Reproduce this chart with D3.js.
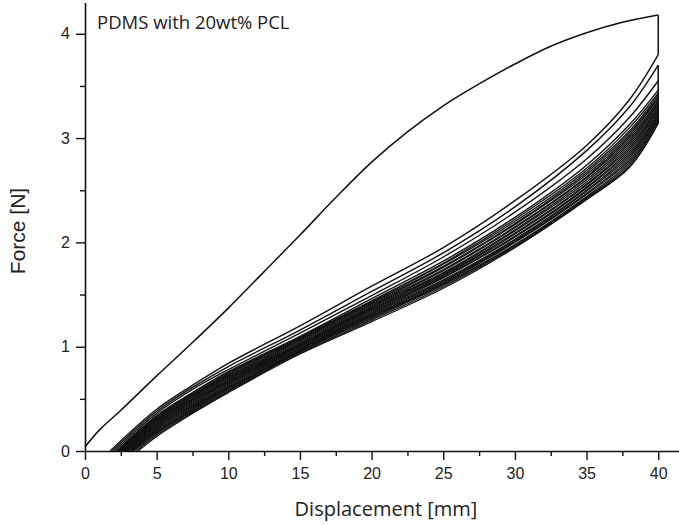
<!DOCTYPE html>
<html>
<head>
<meta charset="utf-8">
<script src="https://cdn.jsdelivr.net/npm/d3@7"></script>
<style>
  html, body { margin: 0; padding: 0; background: #fff; }
  svg { display: block; }
</style>
</head>
<body>
<svg width="679" height="525"></svg>
<script>
// first (virgin) loading cycle
const firstLoadX = [0, 1, 2.5, 5, 7.5, 10, 12.5, 15, 17.5, 20, 22.5, 25, 27.5, 30, 32.5, 35, 37.5, 40];
const firstLoadF = [0.04, 0.20, 0.39, 0.72, 1.04, 1.37, 1.72, 2.07, 2.43, 2.77, 3.06, 3.31, 3.52, 3.71, 3.88, 4.01, 4.11, 4.18];

// following cycles: force at the displacement grid, each starting from zero force
const cycleGridX = [5, 7.5, 10, 15, 20, 25, 30, 35, 38, 40];
const cycleStartX = [1.75, 1.90, 2.05, 2.20, 2.28, 2.35, 2.40, 2.45, 2.50, 2.55, 2.62, 2.70,
                     2.75, 2.80, 2.88, 2.95, 3.02, 3.10, 3.18, 3.25, 3.32, 3.40, 3.55, 3.70];
const cycleForce = [
  [0.40, 0.63, 0.84, 1.20, 1.58, 1.95, 2.40, 2.93, 3.37, 3.80],
  [0.38, 0.61, 0.81, 1.16, 1.53, 1.90, 2.34, 2.88, 3.30, 3.70],
  [0.36, 0.59, 0.78, 1.13, 1.49, 1.86, 2.29, 2.80, 3.20, 3.55],
  [0.34, 0.56, 0.76, 1.10, 1.46, 1.82, 2.24, 2.74, 3.13, 3.46],
  [0.33, 0.55, 0.75, 1.09, 1.44, 1.80, 2.22, 2.71, 3.10, 3.43],
  [0.32, 0.54, 0.74, 1.08, 1.43, 1.79, 2.20, 2.69, 3.07, 3.41],
  [0.31, 0.53, 0.73, 1.07, 1.42, 1.77, 2.18, 2.67, 3.05, 3.39],
  [0.30, 0.52, 0.72, 1.06, 1.41, 1.76, 2.17, 2.65, 3.03, 3.38],
  [0.295, 0.51, 0.71, 1.05, 1.40, 1.74, 2.15, 2.63, 3.01, 3.36],
  [0.29, 0.50, 0.70, 1.04, 1.39, 1.73, 2.14, 2.62, 2.99, 3.35],
  [0.28, 0.49, 0.69, 1.03, 1.38, 1.71, 2.12, 2.60, 2.97, 3.33],
  [0.27, 0.48, 0.68, 1.02, 1.37, 1.70, 2.11, 2.58, 2.95, 3.32],
  [0.26, 0.47, 0.67, 1.015, 1.36, 1.69, 2.09, 2.56, 2.93, 3.30],
  [0.25, 0.46, 0.66, 1.01, 1.35, 1.68, 2.08, 2.55, 2.91, 3.29],
  [0.24, 0.45, 0.65, 1.00, 1.34, 1.67, 2.06, 2.53, 2.89, 3.27],
  [0.23, 0.44, 0.64, 0.99, 1.33, 1.66, 2.05, 2.52, 2.87, 3.26],
  [0.22, 0.43, 0.63, 0.985, 1.32, 1.64, 2.03, 2.50, 2.85, 3.24],
  [0.21, 0.42, 0.62, 0.98, 1.31, 1.63, 2.02, 2.49, 2.83, 3.23],
  [0.20, 0.41, 0.61, 0.97, 1.30, 1.62, 2.01, 2.47, 2.81, 3.21],
  [0.19, 0.40, 0.60, 0.96, 1.29, 1.61, 2.00, 2.46, 2.79, 3.20],
  [0.18, 0.39, 0.59, 0.955, 1.28, 1.60, 1.98, 2.44, 2.77, 3.18],
  [0.17, 0.38, 0.58, 0.95, 1.27, 1.59, 1.97, 2.43, 2.75, 3.17],
  [0.155, 0.37, 0.57, 0.94, 1.255, 1.575, 1.96, 2.42, 2.73, 3.15],
  [0.14, 0.36, 0.56, 0.93, 1.24, 1.56, 1.95, 2.41, 2.72, 3.14]
];

const xMajor = [0, 5, 10, 15, 20, 25, 30, 35, 40];
const xMinor = [2.5, 7.5, 12.5, 17.5, 22.5, 27.5, 32.5, 37.5];
const yMajor = [0, 1, 2, 3, 4];
const yMinor = [0.5, 1.5, 2.5, 3.5];

const svg = d3.select("svg");

let x = d3.scaleLinear().domain([0, 41.45]).range([85, 679])
  , y = d3.scaleLinear().domain([0, 4.3]).range([451, 2.5]);

let line = d3.line()
  .x(d => x(d[0]))
  .y(d => y(d[1]))
  .curve(d3.curveCatmullRom.alpha(0.5));

let straight = d3.line()
  .x(d => x(d[0]))
  .y(d => y(d[1]));

let curves = svg.append("g")
  .attr("fill", "none")
  .attr("stroke", "#111")
  .attr("stroke-linejoin", "round");

// later cycles, last one drawn first
cycleForce.slice().reverse().forEach((f, j) => {
  let i = cycleForce.length - 1 - j;
  let pts = [[cycleStartX[i], 0]].concat(cycleGridX.map((gx, k) => [gx, f[k]]));
  curves.append("path")
    .attr("d", line(pts))
    .attr("stroke-width", i < 4 ? 1.4 : 1.3);
});

// first loading curve
curves.append("path")
  .attr("d", line(firstLoadX.map((v, i) => [v, firstLoadF[i]])))
  .attr("stroke-width", 1.5);

// relaxation at maximum displacement
let last = cycleGridX.length - 1;
curves.append("path")
  .attr("d", straight([[40, firstLoadF[firstLoadF.length - 1]], [40, cycleForce[0][last]]]))
  .attr("stroke-width", 1.5);
curves.append("path")
  .attr("d", straight([[40, cycleForce[1][last]], [40, cycleForce[cycleForce.length - 1][last]]]))
  .attr("stroke-width", 1.6);

// axes
svg.append("g").attr("transform", `translate(0,${y(0)})`)
  .call(d3.axisBottom(x).tickValues(xMajor).tickSize(9).tickSizeOuter(0).tickPadding(8).tickFormat(d3.format("d")));
svg.append("g").attr("transform", `translate(0,${y(0)})`)
  .call(d3.axisBottom(x).tickValues(xMinor).tickSize(5).tickSizeOuter(0).tickFormat(""))
  .call(g => g.select(".domain").remove());

svg.append("g").attr("transform", `translate(${x(0)},0)`)
  .call(d3.axisLeft(y).tickValues(yMajor).tickSize(9).tickSizeOuter(0).tickPadding(6).tickFormat(d3.format("d")));
svg.append("g").attr("transform", `translate(${x(0)},0)`)
  .call(d3.axisLeft(y).tickValues(yMinor).tickSize(5).tickSizeOuter(0).tickFormat(""))
  .call(g => g.select(".domain").remove());

svg.selectAll(".domain").attr("stroke", "#111").attr("stroke-width", 1.6);
svg.selectAll(".tick line").attr("stroke", "#111").attr("stroke-width", 1.4);
svg.selectAll(".tick text")
  .attr("fill", "#222")
  .style("font-family", "'Liberation Sans', Arial, sans-serif")
  .style("font-size", "16px");

// titles
svg.append("text")
  .attr("transform", "translate(25,231) rotate(-90)")
  .attr("text-anchor", "middle")
  .style("font-family", "'Liberation Sans', Arial, sans-serif")
  .style("font-size", "21px")
  .attr("fill", "#222")
  .text("Force [N]");

svg.append("text")
  .attr("x", 386)
  .attr("y", 516)
  .attr("text-anchor", "middle")
  .style("font-family", "'Open Sans', sans-serif")
  .style("font-size", "20px")
  .attr("fill", "#222")
  .text("Displacement [mm]");

svg.append("text")
  .attr("x", 97)
  .attr("y", 29)
  .style("font-family", "'Open Sans', sans-serif")
  .style("font-size", "18.5px")
  .attr("fill", "#222")
  .text("PDMS with 20wt% PCL");
</script>
</body>
</html>
